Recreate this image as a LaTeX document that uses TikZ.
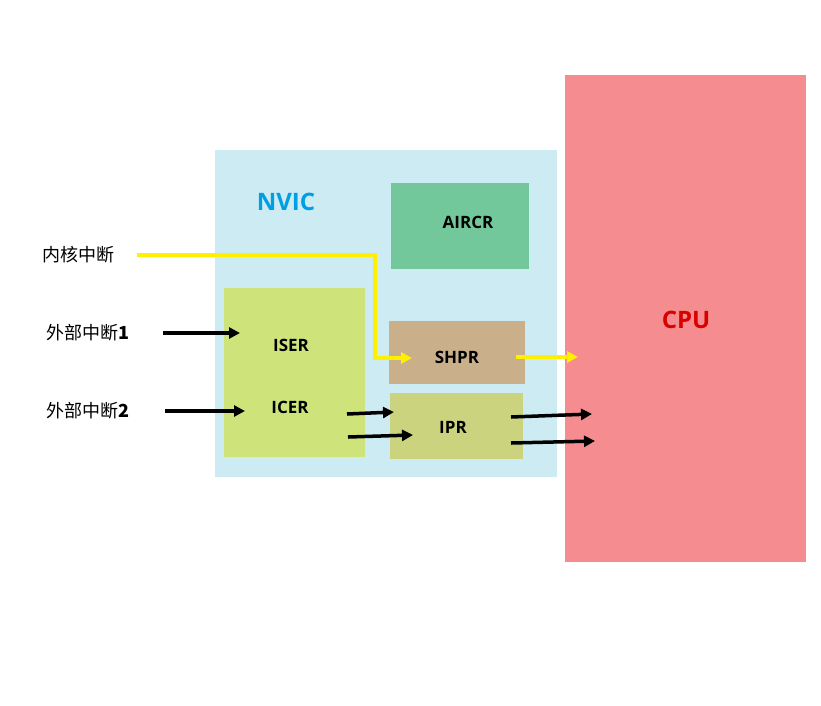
\documentclass[tikz,border=0pt]{standalone}
\usepackage{fontspec}
\setmainfont{Open Sans}
\newfontfamily\cjk{Noto Sans CJK SC}
\usetikzlibrary{arrows.meta}
\definecolor{cpured}{HTML}{F58D90}
\definecolor{nvicblue}{HTML}{CCEBF2}
\definecolor{aircrgreen}{HTML}{72C89A}
\definecolor{isergreen}{HTML}{CEE37A}
\definecolor{shprbrown}{HTML}{C9B08A}
\definecolor{iprolive}{HTML}{CCD37E}
\definecolor{sigyellow}{HTML}{FFF000}
\begin{document}
\begin{tikzpicture}[x=1pt,y=-1pt,
  blk/.style={draw=none,inner sep=0pt,font=\bfseries\fontsize{17}{20}\selectfont},
  lbl/.style={inner sep=0pt,font=\cjk\fontsize{18}{22}\selectfont},
  sig/.style={line width=3.5pt,-{Triangle[length=11pt,width=11pt]}}]

\useasboundingbox (0,0) rectangle (821,705);

\fill[cpured](565,75) rectangle (806,562);
\fill[nvicblue](215,150) rectangle (557,477);
\fill[aircrgreen](391,183) rectangle (529,269);
\fill[isergreen](224,288) rectangle (365,457);
\fill[shprbrown](389,321) rectangle (525,384);
\fill[iprolive](390,393) rectangle (523,459);

\node[blk,text=red!85!black,font=\bfseries\fontsize{24}{28}\selectfont](cpu) at (686,320){CPU};
\node[blk,text={rgb,255:red,0;green,159;blue,227},font=\bfseries\fontsize{24}{28}\selectfont](nvic) at (286,202){NVIC};
\node[blk](aircr) at (468,222){AIRCR};
\node[blk](iser) at (291,345){ISER};
\node[blk](icer) at (290,407){ICER};
\node[blk](shpr) at (457,357){SHPR};
\node[blk](ipr) at (453,427){IPR};

\node[lbl](core) at (78,255){内核中断};
\node[lbl](ext1) at (88,333){外部中断\textbf{1}};
\node[lbl](ext2) at (88,411){外部中断\textbf{2}};

\coordinate(y1) at (137,255);
\coordinate(y2) at (375,255);
\coordinate(y3) at (375,358);
\coordinate(y4) at (412,358);
\coordinate(y5) at (516,357);
\coordinate(y6) at (578,357);
\draw[sig,sigyellow](y1)--(y2)--(y3)--(y4);
\draw[sig,sigyellow](y5)--(y6);

\coordinate(a1) at (163,333);
\coordinate(a2) at (240,333);
\coordinate(b1) at (165,411);
\coordinate(b2) at (245,411);
\coordinate(c1) at (347,414);
\coordinate(c2) at (394,412);
\coordinate(d1) at (348,437);
\coordinate(d2) at (413,435);
\coordinate(e1) at (511,417);
\coordinate(e2) at (592,414);
\coordinate(f1) at (511,443);
\coordinate(f2) at (595,441);
\draw[sig](a1)--(a2);
\draw[sig](b1)--(b2);
\draw[sig](c1)--(c2);
\draw[sig](d1)--(d2);
\draw[sig](e1)--(e2);
\draw[sig](f1)--(f2);
\end{tikzpicture}
\end{document}
